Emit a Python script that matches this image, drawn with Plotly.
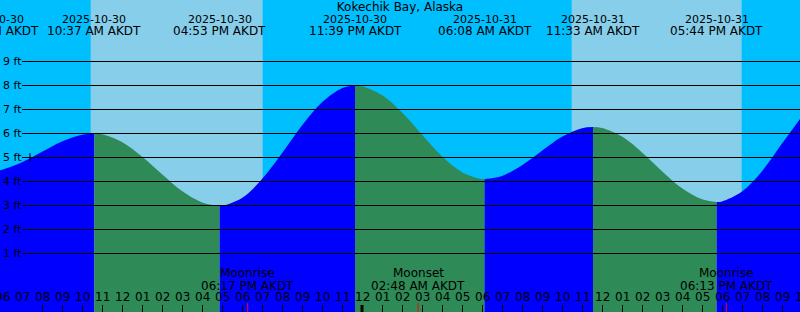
import pandas as pd
import plotly.graph_objects as go

FONT = "DejaVu Sans"
TITLE = "Kokechik Bay, Alaska"

# Tide extremes (time, height in ft)
EVENT_TIMES = ["2025-10-30 05:31", "2025-10-30 10:37", "2025-10-30 16:53",
               "2025-10-30 23:39", "2025-10-31 06:08", "2025-10-31 11:33",
               "2025-10-31 17:44"]
EVENT_FT = [4.40, 6.00, 2.98, 8.00, 4.10, 6.27, 3.15]

# Hourly water level, 2025-10-30 06:00 .. 2025-10-31 22:00
HOURLY_START = "2025-10-30 06:00"
HOURLY_FT = [4.49, 4.80, 5.24, 5.67, 5.95, 5.97, 5.65, 5.04, 4.30, 3.60, 3.13, 2.98,
             3.31, 4.10, 5.18, 6.33, 7.30, 7.89,
             7.97, 7.60, 6.87, 5.95, 5.05, 4.39, 4.10, 4.23, 4.68, 5.28, 5.86, 6.22,
             6.23, 5.87, 5.21, 4.43, 3.72, 3.26, 3.17, 3.58, 4.43, 5.58, 6.72]

# Daylight (sunrise, sunset)
SUN_RISE = ["2025-10-30 10:26", "2025-10-31 10:29"]
SUN_SET = ["2025-10-30 19:02", "2025-10-31 18:59"]

# Moon events
MOON_KIND = ["Moonrise", "Moonset", "Moonrise"]
MOON_TIMES = ["2025-10-30 18:17", "2025-10-31 02:48", "2025-10-31 18:13"]

NOW_TIME = "2025-10-30 07:24"
NOW_FT = 5.0

GRID_FT = [1, 2, 3, 4, 5, 6, 7, 8, 9]
GRID_TEXT = [f"{v} ft" for v in GRID_FT]
X_RANGE = ["2025-10-30 05:54", "2025-10-31 21:54"]
Y_RANGE = [-1.4375, 11.5625]
MIDNIGHT = "2025-10-31 00:00"
HOUR_LABEL_START = "2025-10-30 06:00"
HOUR_LABEL_END = "2025-10-31 22:00"

NIGHT = "#00BFFF"
DAY = "#87CEEB"
RISE = "#0000FF"
FALL = "#2E8B57"

X0, X1 = pd.Timestamp(X_RANGE[0]), pd.Timestamp(X_RANGE[1])

ev = pd.DataFrame({"t": pd.to_datetime(EVENT_TIMES), "h": EVENT_FT, "ev": True})
hr = pd.DataFrame({"t": pd.date_range(HOURLY_START, periods=len(HOURLY_FT), freq="h"),
                   "h": HOURLY_FT, "ev": False})
allpts = pd.concat([ev, hr]).sort_values("t").reset_index(drop=True)

fig = go.Figure()
base_y = Y_RANGE[0] - 1

ev_t = list(ev["t"])
for i in range(len(ev_t)):
    lo = ev_t[i]
    hi = ev_t[i + 1] if i + 1 < len(ev_t) else allpts["t"].max()
    seg = allpts[(allpts["t"] >= lo) & (allpts["t"] <= hi)]
    if len(seg) < 2:
        continue
    rising = seg["h"].iloc[-1] > seg["h"].iloc[0]
    color = RISE if rising else FALL
    fig.add_trace(go.Scatter(x=[seg["t"].iloc[0], seg["t"].iloc[-1]], y=[base_y, base_y],
                             mode="lines", line=dict(width=0, color=color),
                             showlegend=False, hoverinfo="skip"))
    fig.add_trace(go.Scatter(x=seg["t"], y=seg["h"], mode="lines",
                             line=dict(width=0, color=color, shape="spline", smoothing=1),
                             fill="tonexty", fillcolor=color,
                             showlegend=False, hoverinfo="skip"))


def label(t, ypix, text, size):
    """Text centred on time t (through the x axis); off-range times keep their
    position via an invisible arrow whose tail sits at t."""
    ts = pd.Timestamp(t)
    d = dict(xref="x", y=1 - ypix / 312, yref="paper", text=text,
             xanchor="center", yanchor="middle",
             font=dict(family=FONT, size=size, color="#000"))
    if X0 <= ts <= X1:
        d.update(x=ts, showarrow=False)
    else:
        d.update(x=X_RANGE[0] if ts < X0 else X_RANGE[1], ax=ts, axref="x",
                 ay=0, ayref="pixel", showarrow=True, arrowhead=0,
                 arrowwidth=0.1, arrowcolor="rgba(0,0,0,0)")
    return d


annotations = []
for t in ev["t"]:
    annotations.append(label(t, 19, t.strftime("%Y-%m-%d"), 11))
    annotations.append(label(t, 31, t.strftime("%I:%M %p AKDT"), 12))
for kind, mt in zip(MOON_KIND, MOON_TIMES):
    tt = pd.Timestamp(mt)
    annotations.append(label(tt, 273, kind, 12))
    annotations.append(label(tt, 285.5, tt.strftime("%I:%M %p AKDT"), 12))
for ht in pd.date_range(HOUR_LABEL_START, HOUR_LABEL_END, freq="h"):
    annotations.append(label(ht, 297, ht.strftime("%I"), 12))

shapes = []
for a, b in zip(SUN_RISE, SUN_SET):
    shapes.append(dict(type="rect", xref="x", yref="paper", x0=a, x1=b, y0=0, y1=1,
                       fillcolor=DAY, line=dict(width=0), layer="below"))
for g in GRID_FT:
    shapes.append(dict(type="line", xref="paper", yref="y", x0=22 / 800, x1=1, y0=g, y1=g,
                       line=dict(color="#000", width=1), layer="above"))
shapes.append(dict(type="line", xref="x", yref="y", x0=NOW_TIME, x1=NOW_TIME,
                   y0=NOW_FT - 0.18, y1=NOW_FT + 0.18, line=dict(color="#000", width=1),
                   layer="above"))
shapes.append(dict(type="line", xref="x", yref="paper", x0=MIDNIGHT, x1=MIDNIGHT,
                   y0=0, y1=7 / 312, line=dict(color="#000", width=3), layer="above"))
for mt in MOON_TIMES:
    shapes.append(dict(type="line", xref="x", yref="paper", x0=mt, x1=mt,
                       y0=0, y1=9 / 312, line=dict(color="#FF0000", width=1), layer="above"))

fig.update_layout(
    width=800, height=312, autosize=False,
    margin=dict(l=0, r=0, t=0, b=0, pad=0),
    paper_bgcolor=NIGHT, plot_bgcolor=NIGHT,
    title=dict(text=TITLE, x=0.5, xanchor="center", y=1 - 7 / 312, yanchor="middle",
               yref="container", font=dict(family=FONT, size=12, color="#000")),
    shapes=shapes, annotations=annotations,
    xaxis=dict(type="date", range=X_RANGE, tickmode="linear", tick0="2025-10-30 00:00",
               dtick=3600000, ticks="inside", ticklen=7, tickwidth=1,
               tickcolor="#000", showticklabels=False, showgrid=False,
               zeroline=False, showline=False),
    yaxis=dict(range=Y_RANGE, tickmode="array", tickvals=GRID_FT, ticktext=GRID_TEXT,
               ticks="", ticklabelposition="inside", showgrid=False, zeroline=False,
               showline=False, tickfont=dict(family=FONT, size=11, color="#000")),
    showlegend=False,
)

fig.write_html("out.html")
